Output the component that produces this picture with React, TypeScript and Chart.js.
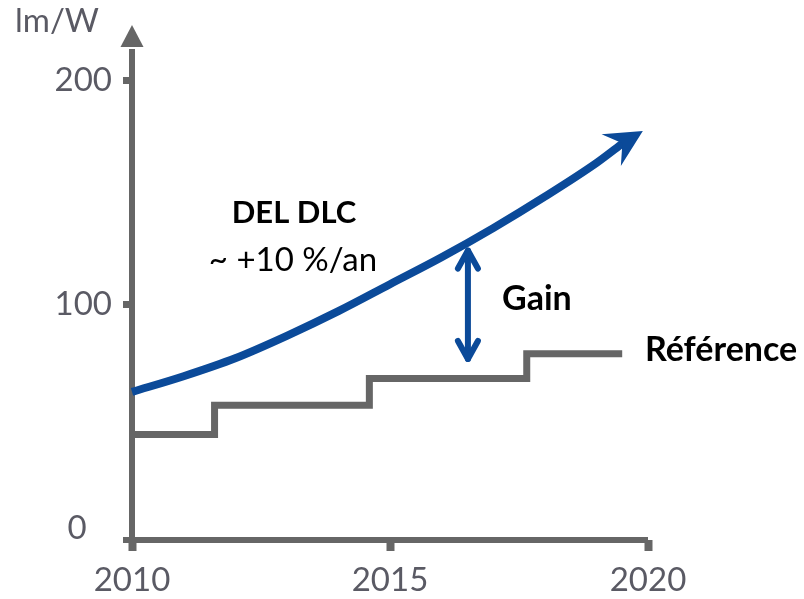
import React, { useEffect, useRef } from 'react';
import { Chart, registerables } from 'chart.js';

Chart.register(...registerables);

// ---- data ----
const X_TICKS = [2010, 2015, 2020];
const Y_TICKS = [0, 100, 200];
const Y_UNIT = 'lm/W';

const DLC_YEARS = [2010, 2011, 2012, 2013, 2014, 2015, 2016, 2017, 2018, 2019, 2019.52];
const DLC_VALUES = [61, 68, 76, 86, 97, 109, 121, 134, 148, 163, 172];
const DLC_TIP_YEAR = 2019.9;
const DLC_TIP_VALUE = 177.3;

const REF_YEARS = [2010, 2011.6, 2014.6, 2017.65, 2019.5];
const REF_VALUES = [42, 55, 67, 78, 78];

const GAIN_YEAR = 2016.51;
const GAIN_TOP = 124;
const GAIN_BOTTOM = 75.7;

const LABEL_DLC = 'DEL DLC';
const LABEL_RATE = '~ +10 %/an';
const LABEL_GAIN = 'Gain';
const LABEL_REF = 'Référence';

// ---- styles ----
const BLUE = '#0B4A99';
const AXIS = '#666666';
const TEXT_GRAY = '#5A5A64';
const FONT = 'Lato, "Open Sans", sans-serif';

const overlay = {
  id: 'overlay',
  beforeDatasetsDraw(chart: any) {
    const { ctx, chartArea: a } = chart;
    ctx.save();
    ctx.strokeStyle = AXIS;
    ctx.fillStyle = AXIS;
    ctx.lineWidth = 6;
    ctx.lineCap = 'butt';
    ctx.beginPath();
    ctx.moveTo(a.left - 9, a.bottom);
    ctx.lineTo(a.right, a.bottom);
    ctx.stroke();
    ctx.beginPath();
    ctx.moveTo(a.left, a.bottom + 3);
    ctx.lineTo(a.left, a.top + 4);
    ctx.stroke();
    ctx.beginPath();
    ctx.moveTo(a.left, a.top - 20);
    ctx.lineTo(a.left + 11.5, a.top + 2);
    ctx.lineTo(a.left - 11.5, a.top + 2);
    ctx.closePath();
    ctx.fill();
    ctx.restore();
  },
  afterDatasetsDraw(chart: any) {
    const { ctx } = chart;
    const x = chart.scales.x;
    const y = chart.scales.y;
    ctx.save();
    // arrow head of the DLC curve
    const n = DLC_YEARS.length - 1;
    const bx = x.getPixelForValue(DLC_YEARS[n]);
    const by = y.getPixelForValue(DLC_VALUES[n]);
    const tx = x.getPixelForValue(DLC_TIP_YEAR);
    const ty = y.getPixelForValue(DLC_TIP_VALUE);
    const dx = tx - bx, dy = ty - by;
    const len = Math.hypot(dx, dy);
    const ux = dx / len, uy = dy / len;
    const px = -uy, py = ux;
    const L = 37, W = 18.6;
    const cx = tx - ux * L, cy = ty - uy * L;
    ctx.fillStyle = BLUE;
    ctx.beginPath();
    ctx.moveTo(tx, ty);
    ctx.lineTo(cx + px * W, cy + py * W);
    ctx.lineTo(bx - ux * 1, by - uy * 1);
    ctx.lineTo(cx - px * W, cy - py * W);
    ctx.closePath();
    ctx.fill();

    // gain double arrow
    const gx = x.getPixelForValue(GAIN_YEAR);
    const gt = y.getPixelForValue(GAIN_TOP);
    const gb = y.getPixelForValue(GAIN_BOTTOM);
    ctx.strokeStyle = BLUE;
    ctx.lineWidth = 6;
    ctx.lineCap = 'round';
    ctx.lineJoin = 'round';
    ctx.beginPath();
    ctx.moveTo(gx, gt);
    ctx.lineTo(gx, gb);
    ctx.stroke();
    ctx.beginPath();
    ctx.moveTo(gx - 10, gt + 18);
    ctx.lineTo(gx, gt);
    ctx.lineTo(gx + 10, gt + 18);
    ctx.stroke();
    ctx.beginPath();
    ctx.moveTo(gx - 10, gb - 18);
    ctx.lineTo(gx, gb);
    ctx.lineTo(gx + 10, gb - 18);
    ctx.stroke();

    // texts
    ctx.textBaseline = 'alphabetic';
    ctx.fillStyle = TEXT_GRAY;
    ctx.textAlign = 'left';
    ctx.font = `33px ${FONT}`;
    ctx.fillText(Y_UNIT, 15, 32);

    ctx.fillStyle = '#000000';
    ctx.textAlign = 'center';
    ctx.font = `bold 31px ${FONT}`;
    ctx.fillText(LABEL_DLC, 294, 223);
    ctx.font = `33px ${FONT}`;
    ctx.fillText(LABEL_RATE, 293, 271);

    ctx.textAlign = 'left';
    ctx.font = `bold 34px ${FONT}`;
    ctx.fillText(LABEL_GAIN, 502, 310);
    ctx.fillText(LABEL_REF, 645, 361);
    ctx.restore();
  },
};

export default function App() {
  const ref = useRef<HTMLCanvasElement>(null);
  useEffect(() => {
    const chart = new Chart(ref.current as HTMLCanvasElement, {
      type: 'line',
      data: {
        datasets: [
          {
            label: LABEL_REF,
            data: REF_YEARS.map((t, i) => ({ x: t, y: REF_VALUES[i] })),
            borderColor: AXIS,
            borderWidth: 7,
            stepped: 'before',
            pointRadius: 0,
            fill: false,
            borderCapStyle: 'butt',
            borderJoinStyle: 'miter',
            clip: false,
          } as any,
          {
            label: LABEL_DLC,
            data: DLC_YEARS.map((t, i) => ({ x: t, y: DLC_VALUES[i] })),
            borderColor: BLUE,
            borderWidth: 8,
            cubicInterpolationMode: 'monotone',
            pointRadius: 0,
            fill: false,
            borderCapStyle: 'butt',
            clip: false,
          } as any,
        ],
      },
      options: {
        responsive: false,
        animation: false,
        layout: { padding: { top: 45, right: 156, left: 0, bottom: 0 } },
        plugins: { legend: { display: false }, tooltip: { enabled: false } },
        scales: {
          x: {
            type: 'linear',
            min: 2010,
            max: 2020,
            afterBuildTicks: (s: any) => {
              s.ticks = X_TICKS.map((v) => ({ value: v }));
            },
            afterFit: (s: any) => {
              s.height = 59;
            },
            grid: {
              drawOnChartArea: false,
              drawTicks: true,
              tickLength: 11,
              tickWidth: 8,
              tickColor: AXIS,
            },
            border: { display: false },
            ticks: {
              color: TEXT_GRAY,
              font: { family: FONT, size: 33 },
              padding: 10,
              maxRotation: 0,
              autoSkip: false,
              callback: (v: any) => String(v),
            },
          },
          y: {
            type: 'linear',
            min: -5,
            max: 215.6,
            afterBuildTicks: (s: any) => {
              s.ticks = Y_TICKS.map((v) => ({ value: v }));
            },
            afterFit: (s: any) => {
              s.width = 132;
            },
            grid: {
              drawOnChartArea: false,
              drawTicks: true,
              tickLength: 9,
              tickWidth: 7,
              tickColor: (c: any) => (c.tick && c.tick.value === 0 ? 'rgba(0,0,0,0)' : AXIS),
            },
            border: { display: false },
            ticks: {
              color: TEXT_GRAY,
              font: { family: FONT, size: 33 },
              padding: 11,
              autoSkip: false,
              callback: (v: any) => (v === 0 ? '0   ' : String(v)),
            },
          },
        },
      } as any,
      plugins: [overlay],
    });
    return () => chart.destroy();
  }, []);
  return (
    <div style={{ position: 'fixed', left: 0, top: 0, width: 804, height: 599, background: '#ffffff' }}>
      <canvas ref={ref} width={804} height={599} style={{ display: 'block', width: 804, height: 599 }} />
    </div>
  );
}
